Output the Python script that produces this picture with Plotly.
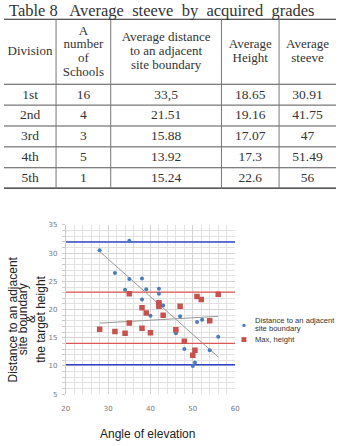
import plotly.graph_objects as go

# ---------------- Table data ----------------
table_headers = ["Division", "A<br>number<br>of<br>Schools",
                 "Average distance<br>to an adjacent<br>site boundary",
                 "Average<br>Height", "Average<br>steeve"]
divisions = ["1st", "2nd", "3rd", "4th", "5th"]
num_schools = ["16", "4", "3", "5", "1"]
avg_distance = ["33,5", "21.51", "15.88", "13.92", "15.24"]
avg_height = ["18.65", "19.16", "17.07", "17.3", "22.6"]
avg_steeve = ["30.91", "41.75", "47", "51.49", "56"]

# ---------------- Scatter data ----------------
dist_angle = [35, 28, 31.6, 35, 38, 34, 39, 42, 42, 38, 43, 40, 47, 51, 52.2, 46, 48, 50.5, 50, 54, 56]
dist_value = [32.2, 30.5, 26.5, 25.4, 25.5, 23.5, 23.6, 23.7, 22.8, 21.8, 20.7, 18.9, 18.8, 17.8, 18.2,
              15.8, 13.0, 10.6, 10.0, 12.8, 15.2]
height_angle = [35, 42, 42, 42, 38, 39, 43, 47, 51, 52, 56, 54, 28, 31.6, 34, 35, 38, 40, 46, 48, 50.5, 50]
height_value = [22.8, 21.2, 20.9, 20.6, 20.3, 19.4, 19.0, 20.6, 22.3, 21.8, 22.7, 18.0, 16.5, 16.1, 15.8,
                17.6, 16.7, 15.9, 16.4, 14.4, 12.8, 11.9]

limit_x = [20, 60]
dist_limits = [32.0, 10.2]
height_limits = [23.1, 14.0]

trend_angle = [28, 56]
trend_distance = [30.3, 11.6]
trend_height = [17.6, 18.8]

x_range = [20, 60]
y_range = [5, 35]

# ---------------- layout constants ----------------
W, H = 340, 446
def px(x):
    return x / W
def py(y):
    return 1 - y / H

SERIF = "Liberation Serif, Times New Roman, serif"
SANS = "Liberation Sans, Arial, sans-serif"

col_widths = [53.3, 56, 113.4, 59, 58.3]
header_h = 66.7
row_h = 21.26
header_pitch = 14
table_top, table_bottom = 15, 188
table_h = table_bottom - table_top

col_edges = [0]
for w in col_widths:
    col_edges.append(col_edges[-1] + w)
col_centers = [(col_edges[i] + col_edges[i + 1]) / 2 for i in range(len(col_widths))]

fig = go.Figure()

# ---------------- table (text on hidden axes x2/y2, 1 unit = 1 px) ----------------
hx, hy, ht = [], [], []
for c, head in enumerate(table_headers):
    lines = head.split("<br>")
    n = len(lines)
    for k, ln in enumerate(lines):
        hx.append(col_centers[c])
        hy.append(header_h / 2 + 0.5 + (k - (n - 1) / 2) * header_pitch)
        ht.append(ln)
fig.add_trace(go.Scatter(x=hx, y=hy, text=ht, mode="text", textposition="middle center",
                         textfont=dict(family=SERIF, size=13, color="#333"),
                         xaxis="x2", yaxis="y2", showlegend=False, hoverinfo="skip", cliponaxis=False))

columns = [divisions, num_schools, avg_distance, avg_height, avg_steeve]
cx, cy, ctext = [], [], []
for c, col in enumerate(columns):
    for r, val in enumerate(col):
        cx.append(col_centers[c])
        cy.append(header_h + (r + 0.5) * row_h + 0.5)
        ctext.append(val)
fig.add_trace(go.Scatter(x=cx, y=cy, text=ctext, mode="text", textposition="middle center",
                         textfont=dict(family=SERIF, size=13.5, color="#333"),
                         xaxis="x2", yaxis="y2", showlegend=False, hoverinfo="skip", cliponaxis=False))

shapes = []
shapes.append(dict(type="line", xref="x2", yref="y2", x0=0, x1=W, y0=0, y1=0,
                   line=dict(color="#222", width=2)))
shapes.append(dict(type="line", xref="x2", yref="y2", x0=0, x1=W, y0=table_h, y1=table_h,
                   line=dict(color="#222", width=2.5)))
for r in range(len(divisions)):
    yy = header_h + r * row_h
    shapes.append(dict(type="line", xref="x2", yref="y2", x0=0, x1=W, y0=yy, y1=yy,
                       line=dict(color="#555", width=1.2 if r == 0 else 1)))
for e in col_edges[1:-1]:
    shapes.append(dict(type="line", xref="x2", yref="y2", x0=e, x1=e, y0=0, y1=table_h,
                       line=dict(color="#777", width=1)))

# ---------------- scatter chart ----------------
for v in dist_limits:
    fig.add_trace(go.Scatter(x=limit_x, y=[v, v], mode="lines",
                             line=dict(color="#3344cc", width=1.5), showlegend=False, hoverinfo="skip"))
for v in height_limits:
    fig.add_trace(go.Scatter(x=limit_x, y=[v, v], mode="lines",
                             line=dict(color="#e05555", width=1.2), showlegend=False, hoverinfo="skip"))

fig.add_trace(go.Scatter(x=trend_angle, y=trend_distance, mode="lines",
                         line=dict(color="#999", width=1), showlegend=False))
fig.add_trace(go.Scatter(x=trend_angle, y=trend_height, mode="lines",
                         line=dict(color="#999", width=1), showlegend=False))

fig.add_trace(go.Scatter(x=dist_angle, y=dist_value, mode="markers", name="Distance to an adjacent site boundary",
                         marker=dict(symbol="circle", size=4, color="#4a7ebb"), showlegend=False))
fig.add_trace(go.Scatter(x=height_angle, y=height_value, mode="markers", name="Max, height",
                         marker=dict(symbol="square", size=5.5, color="#c8504d"), showlegend=False))

axis_common = dict(showgrid=True, gridcolor="#d4d4d4", gridwidth=1, zeroline=False,
                   tickfont=dict(family="DejaVu Sans", size=7, color="#777"))

fig.update_layout(
    width=W, height=H, margin=dict(l=0, r=0, t=0, b=0),
    paper_bgcolor="white", plot_bgcolor="white", showlegend=False,
    xaxis=dict(domain=[px(63.3), px(236.7)], range=x_range, dtick=10, tick0=20,
               minor=dict(dtick=2, showgrid=True, gridcolor="#e2e2e2"),
               ticks="", ticklabelstandoff=9, **axis_common),
    yaxis=dict(domain=[py(397.3), py(225)], range=y_range, dtick=5, tick0=5,
               minor=dict(dtick=1, showgrid=True, gridcolor="#e2e2e2", ticks="outside", ticklen=3, tickcolor="#ccc"),
               showline=True, linecolor="#ccc", ticks="outside", ticklen=3, tickcolor="#ccc",
               ticklabelstandoff=3, **axis_common),
    xaxis2=dict(domain=[0, 1], range=[0, W], visible=False, fixedrange=True),
    yaxis2=dict(domain=[py(table_bottom), py(table_top)], range=[table_h, 0], visible=False, fixedrange=True),
)

annotations = [
    dict(text="Table 8&nbsp;&nbsp; Average&nbsp; steeve&nbsp; by&nbsp; acquired&nbsp; grades",
         x=px(162), y=py(6.5), xref="paper", yref="paper", showarrow=False,
         xanchor="center", yanchor="middle", font=dict(family=SERIF, size=16.5, color="#333")),
    dict(text="Angle of elevation", x=px(147), y=py(438), xref="paper", yref="paper", showarrow=False,
         xanchor="center", yanchor="middle", font=dict(family=SANS, size=12, color="#222")),
    dict(text="Distance to an adjacent", x=px(255), y=py(322.5), xref="paper", yref="paper", showarrow=False,
         xanchor="left", yanchor="middle", font=dict(family=SANS, size=7.6, color="#333")),
    dict(text="site boundary", x=px(255), y=py(330), xref="paper", yref="paper", showarrow=False,
         xanchor="left", yanchor="middle", font=dict(family=SANS, size=7.6, color="#333")),
    dict(text="Max, height", x=px(255), y=py(342), xref="paper", yref="paper", showarrow=False,
         xanchor="left", yanchor="middle", font=dict(family=SANS, size=7.6, color="#333")),
]
for xc, t in [(9.5, "Distance to an adjacent"), (19.5, "site boundary"), (27.5, "&"), (38.5, "the target height")]:
    annotations.append(dict(text=t, x=px(xc), y=py(321), xref="paper", yref="paper", showarrow=False,
                            textangle=-90, xanchor="center", yanchor="middle",
                            font=dict(family=SANS, size=12, color="#222")))
fig.update_layout(annotations=annotations)

shapes += [
    dict(type="circle", xref="paper", yref="paper", x0=px(244), x1=px(247.5), y0=py(329), y1=py(325.5),
         fillcolor="#4a7ebb", line=dict(width=0)),
    dict(type="rect", xref="paper", yref="paper", x0=px(243.2), x1=px(248.2), y0=py(344.2), y1=py(339.2),
         fillcolor="#c8504d", line=dict(width=0)),
]
fig.update_layout(shapes=shapes)

fig.write_html("out.html")
